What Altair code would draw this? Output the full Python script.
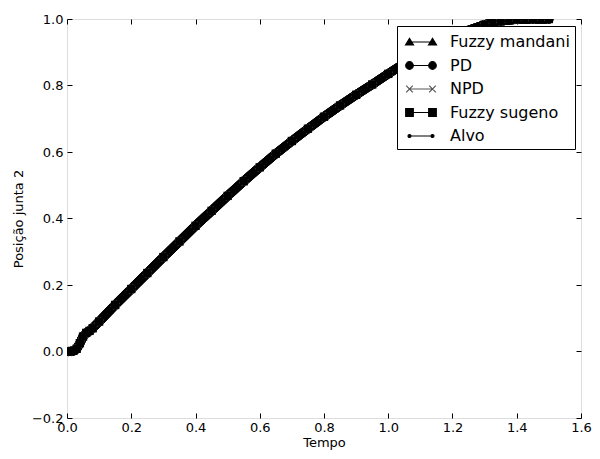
import altair as alt
import pandas as pd

# ---- data ----
tempo = [0.00, 0.01, 0.02, 0.03, 0.04, 0.05, 0.06, 0.07, 0.08, 0.10,
         0.15, 0.20, 0.25, 0.30, 0.35, 0.40, 0.45, 0.50, 0.55, 0.60,
         0.65, 0.70, 0.75, 0.80, 0.85, 0.90, 0.95, 1.00, 1.05, 1.10,
         1.15, 1.20, 1.25, 1.30, 1.35, 1.40, 1.45, 1.50]

fuzzy_mandani = [0.000, 0.000, 0.002, 0.008, 0.025, 0.045, 0.056, 0.062, 0.070, 0.090,
                 0.140, 0.188, 0.236, 0.284, 0.331, 0.378, 0.423, 0.468, 0.512, 0.554,
                 0.595, 0.633, 0.670, 0.706, 0.740, 0.772, 0.803, 0.835, 0.866, 0.895,
                 0.921, 0.945, 0.966, 0.983, 0.994, 0.999, 1.000, 1.000]
pd_ctrl = list(fuzzy_mandani)
npd_ctrl = list(fuzzy_mandani)
fuzzy_sugeno = list(fuzzy_mandani)
alvo = list(fuzzy_mandani)

nomes = ["Fuzzy mandani", "PD", "NPD", "Fuzzy sugeno", "Alvo"]
valores = [fuzzy_mandani, pd_ctrl, npd_ctrl, fuzzy_sugeno, alvo]
cores = ["black", "black", "#555555", "black", "black"]

x_ticks = [0.0, 0.2, 0.4, 0.6, 0.8, 1.0, 1.2, 1.4, 1.6]
y_ticks = [-0.2, 0.0, 0.2, 0.4, 0.6, 0.8, 1.0]

rows = []
for nome, vals in zip(nomes, valores):
    for t, v in zip(tempo, vals):
        rows.append({"Tempo": t, "valor": v, "serie": nome})
df = pd.DataFrame(rows)

FONT = "DejaVu Sans"


# ---- legend symbols (line with a marker at each end) ----
def _line():
    return "M-1.15,0L1.15,0"


def tri(c):
    return f"M{c-0.4},0.3L{c},-0.35L{c+0.4},0.3Z"


def circ(c, r):
    return f"M{c-r},0A{r},{r} 0 1,0 {c+r},0A{r},{r} 0 1,0 {c-r},0Z"


def sq(c, h):
    return f"M{c-h},{-h}L{c+h},{-h}L{c+h},{h}L{c-h},{h}Z"


def xx(c, h):
    return f"M{c-h},{-h}L{c+h},{h}M{c-h},{h}L{c+h},{-h}"


paths = [
    _line() + tri(-1.15) + tri(1.15),
    _line() + circ(-1.15, 0.38) + circ(1.15, 0.38),
    _line() + xx(-1.15, 0.33) + xx(1.15, 0.33),
    _line() + sq(-1.15, 0.38) + sq(1.15, 0.38),
    _line() + circ(-1.15, 0.15) + circ(1.15, 0.15),
]

x_scale = alt.Scale(domain=[0, 1.6], nice=False, zero=False)
y_scale = alt.Scale(domain=[-0.2, 1.0], nice=False, zero=False)

common_axis = dict(tickSize=5, offset=-5, domain=False, grid=False,
                   tickColor="black", tickWidth=1, labelFont=FONT,
                   labelFontSize=13, labelColor="black", labelFlush=False,
                   labelOverlap=False, labelBound=False, titleFont=FONT,
                   titleFontSize=13, titleFontWeight="normal",
                   titleColor="black", format=".1f")

ax_bottom = alt.Axis(values=x_ticks, title="Tempo", labelPadding=3,
                     titlePadding=2, **common_axis)
ax_left = alt.Axis(values=y_ticks, title="Posição junta 2", labelPadding=4,
                   titlePadding=6, **common_axis)
ax_top = alt.Axis(orient="top", values=x_ticks, labels=False, title=None,
                  tickSize=5, offset=-5, domain=False, grid=False,
                  tickColor="black")
ax_right = alt.Axis(orient="right", values=y_ticks, labels=False, title=None,
                    tickSize=5, offset=-5, domain=False, grid=False,
                    tickColor="black")

base = alt.Chart(df)

band = base.mark_line(color="black", strokeWidth=9, strokeCap="round",
                      strokeJoin="round", clip=True).encode(
    x=alt.X("Tempo:Q", scale=x_scale, axis=ax_bottom),
    y=alt.Y("valor:Q", scale=y_scale, axis=ax_left),
    detail="serie:N",
)

marker_specs = [
    ("Fuzzy mandani", dict(shape="triangle-up", filled=True, size=60)),
    ("PD", dict(shape="circle", filled=True, size=60)),
    ("NPD", dict(shape="cross", angle=45, filled=False, size=50)),
    ("Fuzzy sugeno", dict(shape="square", filled=True, size=70)),
    ("Alvo", dict(shape="circle", filled=True, size=12)),
]

layers = [band]
for nome, spec in marker_specs:
    cor = cores[nomes.index(nome)]
    layers.append(
        base.transform_filter(alt.datum.serie == nome)
        .mark_point(color=cor, clip=True, opacity=1, **spec)
        .encode(
            x=alt.X("Tempo:Q", scale=x_scale, axis=None),
            y=alt.Y("valor:Q", scale=y_scale, axis=None),
        )
    )

legend_layer = base.mark_point(filled=True, opacity=0, clip=True).encode(
    x=alt.X("Tempo:Q", scale=x_scale, axis=ax_top),
    y=alt.Y("valor:Q", scale=y_scale, axis=ax_right),
    shape=alt.Shape("serie:N", scale=alt.Scale(domain=nomes, range=paths),
                    legend=alt.Legend(title=None)),
    fill=alt.Fill("serie:N", scale=alt.Scale(domain=nomes, range=cores),
                  legend=alt.Legend(title=None)),
    stroke=alt.Stroke("serie:N", scale=alt.Scale(domain=nomes, range=cores),
                      legend=alt.Legend(title=None)),
)
layers.append(legend_layer)

chart = (
    alt.layer(*layers)
    .resolve_axis(x="independent", y="independent")
    .properties(width=514, height=399,
                autosize=alt.AutoSizeParams(type="none"),
                padding={"left": 59, "top": 11, "right": 11, "bottom": 33})
    .configure_view(stroke="black", strokeWidth=1)
    .configure(background="white")
    .configure_legend(orient="none", legendX=330, legendY=7, padding=5,
                      strokeColor="black", fillColor="white", cornerRadius=0,
                      symbolSize=400, symbolOffset=8, labelOffset=18,
                      symbolStrokeWidth=1.2, symbolOpacity=1,
                      labelFont=FONT, labelFontSize=16, labelColor="black",
                      rowPadding=4.5, labelLimit=300)
)

chart.save("out.html", embed_options={"renderer": "svg", "actions": False})
